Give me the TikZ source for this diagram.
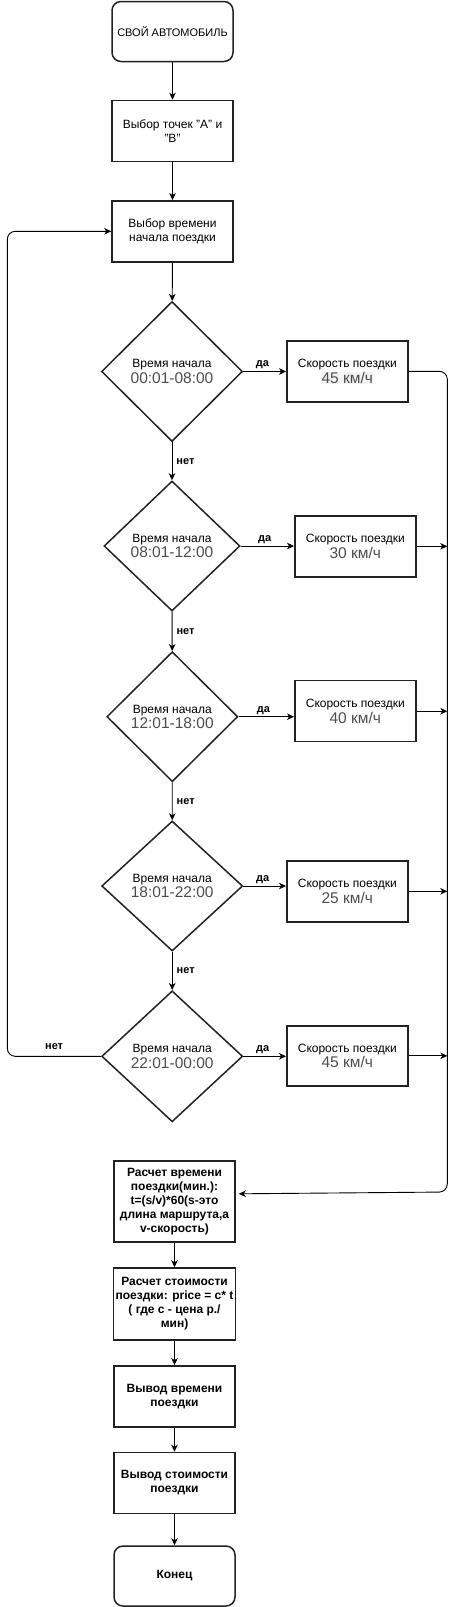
\documentclass[tikz,border=0pt]{standalone}
\usepackage{fontspec}
\setmainfont{Liberation Sans}
\usetikzlibrary{shapes.geometric,arrows.meta}
\definecolor{numgray}{HTML}{4D4D4D}
\definecolor{edgecol}{HTML}{222222}
\definecolor{hlgray}{HTML}{F2F2F2}
\newcommand{\bignum}[1]{{\fontsize{15.5}{17}\selectfont\color{numgray}#1}}
\begin{document}
\begin{tikzpicture}[x=1pt,y=-1pt,
  box/.style={draw=edgecol, line width=1.5pt, minimum width=121pt, minimum height=61pt, inner sep=2pt, align=center, font=\fontsize{12}{14}\selectfont},
  boldbox/.style={box, font=\bfseries\fontsize{12}{14}\selectfont},
  term/.style={box, rounded corners=9pt, minimum height=60pt},
  cond/.style={diamond, draw=edgecol, line width=1.5pt, inner sep=0pt, align=center, font=\fontsize{12}{14}\selectfont},
  arr/.style={-{Stealth[length=7pt,width=6.5pt,inset=2pt]}, line width=0.9pt},
  lbl/.style={font=\bfseries\fontsize{11}{13}\selectfont, inner sep=2pt}
]
\useasboundingbox (0,0) rectangle (456,1607);

% main column
\node[term, font=\fontsize{11}{13}\selectfont] (start) at (172.5,31.5) {СВОЙ АВТОМОБИЛЬ};
\node[box] (b2) at (172.5,131) {Выбор точек "А" и\\"В"};
\node[box] (b3) at (172.5,231.3) {Выбор времени\\начала поездки};

% decisions
\node[cond, minimum width=141pt, minimum height=140pt] (d1) at (172,371.5) {Время начала\\[1.5pt]\bignum{00:01-08:00}};
\node[cond, minimum width=136pt, minimum height=130pt] (d2) at (172,546) {Время начала\\[1.5pt]\bignum{08:01-12:00}};
\node[cond, minimum width=131pt, minimum height=130pt] (d3) at (172.3,716.7) {Время начала\\[1.5pt]\bignum{12:01-18:00}};
\node[cond, minimum width=141pt, minimum height=130pt] (d4) at (172.2,886) {Время начала\\[1.5pt]\bignum{18:01-22:00}};
\node[cond, minimum width=141pt, minimum height=131pt] (d5) at (172.2,1056.3) {Время начала\\[1.5pt]\bignum{22:01-00:00}};

% speeds
\node[box] (s1) at (347.3,371.3) {Скорость поездки\\[1pt]{\setlength{\fboxsep}{0.5pt}\colorbox{hlgray}{\bignum{45 км/ч}}}};
\node[box] (s2) at (355.3,546.3) {Скорость поездки\\[1.5pt]\bignum{30 км/ч}};
\node[box] (s3) at (355.3,711.2) {Скорость поездки\\[1.5pt]\bignum{40 км/ч}};
\node[box] (s4) at (347.3,891.3) {Скорость поездки\\[1.5pt]\bignum{25 км/ч}};
\node[box, minimum height=60pt] (s5) at (347.3,1055.8) {Скорость поездки\\[1.5pt]\bignum{45 км/ч}};

% bottom
\node[boldbox, minimum height=81pt] (c1) at (174.5,1201.3) {Расчет времени\\поездки(мин.):\\t=(s/v)*60(s-это\\длина маршрута,а\\v-скорость)};
\node[boldbox, minimum height=72pt] (c2) at (174.5,1304) {Расчет стоимости\\поездки: price = c* t\\( где с - цена р./\\мин)};
\node[boldbox] (o1) at (174.5,1396.3) {Вывод времени\\поездки};
\node[boldbox] (o2) at (174.5,1483) {Вывод стоимости\\поездки};
\node[term, font=\bfseries\fontsize{12}{14}\selectfont] (end) at (174.5,1576) {Конец};

% helper coordinates
\coordinate (R1) at (447.3,371.3);
\coordinate (R2) at (447.3,1192);
\coordinate (L1) at (7.3,1056.3);

% connectors
\draw[arr] (start) -- (b2);
\draw[arr] (b2) -- (b3);
\draw[arr] (b3) -- (d1);
\draw[arr] (d1) -- node[lbl,right,xshift=2pt]{нет} (d2);
\draw[arr] (d2) -- node[lbl,right,xshift=2pt]{нет} (d3);
\draw[arr] (d3) -- node[lbl,right,xshift=2pt]{нет} (d4);
\draw[arr] (d4) -- node[lbl,right,xshift=2pt]{нет} (d5);

\draw[arr] (d1.east) -- node[lbl,above,pos=0.45]{да} (d1.east -| s1.west);
\draw[arr] (d2.east) -- node[lbl,above,pos=0.45]{да} (d2.east -| s2.west);
\draw[arr] (d3.east) -- node[lbl,above,pos=0.45]{да} (d3.east -| s3.west);
\draw[arr] (d4.east) -- node[lbl,above,pos=0.45]{да} (d4.east -| s4.west);
\draw[arr] (d5.east) -- node[lbl,above,pos=0.45]{да} (d5.east -| s5.west);

\draw[arr, rounded corners=8pt] (s1.east) -- (R1) -- (R2) -- ([xshift=3pt,yshift=7.5pt]c1.east);
\draw[arr] (s2.east) -- (s2.east -| R1);
\draw[arr] (s3.east) -- (s3.east -| R1);
\draw[arr] (s4.east) -- (s4.east -| R1);
\draw[arr] (s5.east) -- (s5.east -| R1);

\draw[arr, rounded corners=8pt] (d5.west) -- node[lbl,above=4pt,pos=0.5]{нет} (L1) -- (b3.west -| L1) -- (b3.west);

\draw[arr] (c1) -- (c2);
\draw[arr] (c2) -- (o1);
\draw[arr] (o1) -- (o2);
\draw[arr] (o2) -- (end);
\end{tikzpicture}
\end{document}
